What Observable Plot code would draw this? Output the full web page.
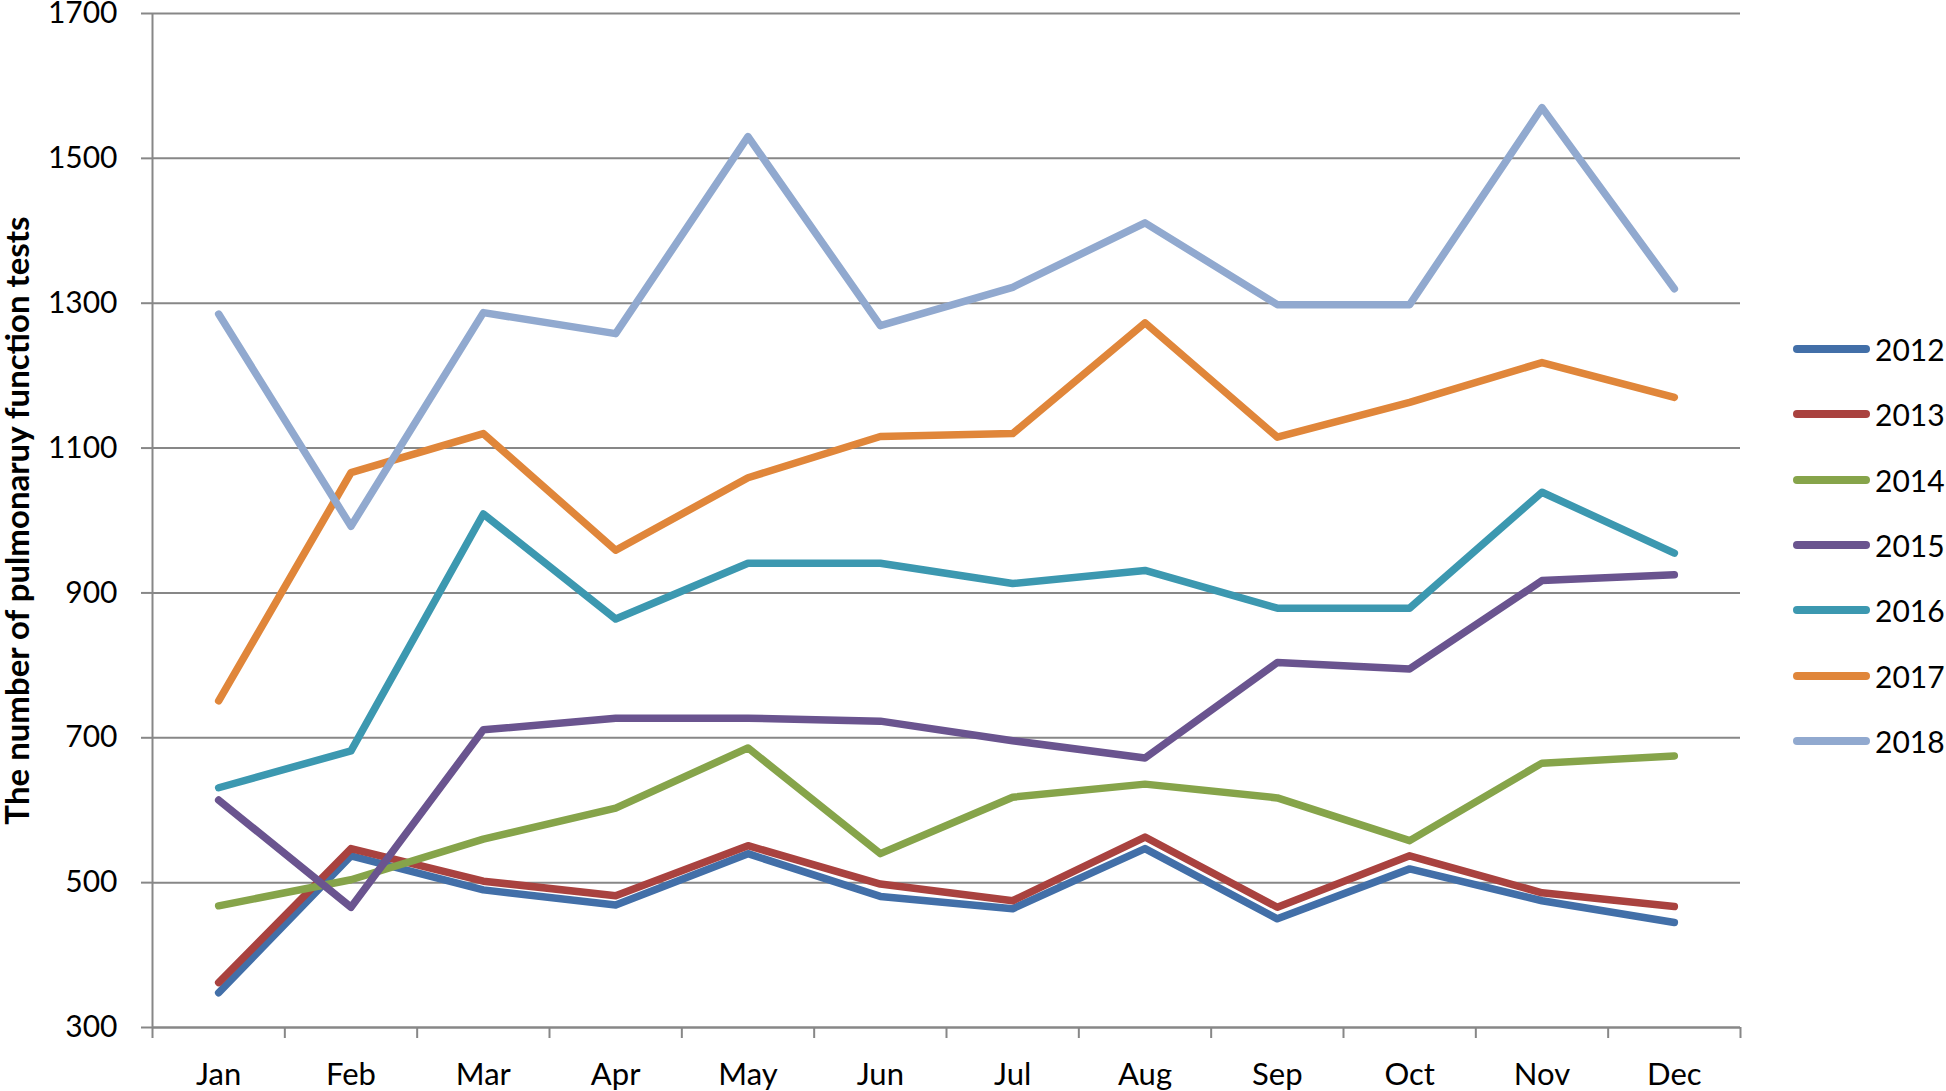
<!DOCTYPE html>
<html>
<head>
<meta charset="utf-8">
<script src="https://cdn.jsdelivr.net/npm/d3@7"></script>
<script src="https://cdn.jsdelivr.net/npm/@observablehq/plot@0.6"></script>
<style>
  html, body { margin: 0; padding: 0; background: #fff; }
  #wrap { position: relative; width: 1946px; height: 1091px; font-family: Lato, "Open Sans", sans-serif; }
  #legend { position: absolute; left: 1793px; top: 316px; }
  .item { position: absolute; left: 0; height: 0; width: 160px; }
  .sw { position: absolute; left: 0; top: -4px; width: 77px; height: 8px; border-radius: 4px; }
  .lb { position: absolute; left: 82px; top: -19px; font-size: 30px; line-height: 38px; color: #000; }
</style>
</head>
<body>
<div id="wrap"><div id="legend"></div></div>
<script>
const months = ["Jan","Feb","Mar","Apr","May","Jun","Jul","Aug","Sep","Oct","Nov","Dec"];
const years = ["2012","2013","2014","2015","2016","2017","2018"];
const colors = ["#426fa8","#a9423f","#86a44a","#6a548f","#3c98b0","#e0863a","#91a9cf"];
const yTicks = [300, 500, 700, 900, 1100, 1300, 1500, 1700];
const yTitle = "The number of pulmonaruy function tests";

const v2012 = [348, 537, 490, 469, 540, 481, 464, 547, 450, 519, 475, 445];
const v2013 = [362, 547, 502, 482, 551, 498, 475, 563, 466, 537, 486, 467];
const v2014 = [468, 504, 560, 603, 686, 540, 618, 636, 617, 558, 665, 675];
const v2015 = [614, 466, 711, 727, 727, 723, 696, 672, 804, 795, 917, 925];
const v2016 = [631, 682, 1009, 864, 941, 941, 913, 931, 879, 879, 1039, 955];
const v2017 = [751, 1066, 1120, 959, 1059, 1116, 1120, 1273, 1115, 1163, 1218, 1170];
const v2018 = [1285, 992, 1287, 1258, 1530, 1269, 1322, 1411, 1298, 1298, 1570, 1320];
const series = [v2012, v2013, v2014, v2015, v2016, v2017, v2018];

const rows = [];
series.forEach((vals, si) => {
  vals.forEach((v, mi) => rows.push({year: years[si], month: months[mi], xi: mi + 0.5, value: v}));
});
const centers = months.map((m, i) => i + 0.5);
const bounds = d3.range(months.length + 1);
const gray = "#878787";

const chart = Plot.plot({
  width: 1946,
  height: 1091,
  marginLeft: 152,
  marginRight: 206,
  marginTop: 13,
  marginBottom: 64,
  style: {fontFamily: "Lato, 'Open Sans', sans-serif", fontSize: "30px", color: "#000", background: "#fff", overflow: "visible"},
  x: {type: "linear", domain: [0, months.length]},
  y: {domain: [300, 1700]},
  color: {domain: years, range: colors},
  marks: [
    Plot.gridY(yTicks, {stroke: gray, strokeOpacity: 1, strokeWidth: 2}),
    Plot.axisY(yTicks, {tickSize: 11, tickPadding: 24, stroke: gray, strokeWidth: 2, fontSize: 30, label: null, tickFormat: d => String(d)}),
    Plot.ruleX([0], {stroke: gray, strokeWidth: 2}),
    Plot.ruleY([300], {stroke: gray, strokeWidth: 2}),
    Plot.axisX(bounds, {tickSize: 11, stroke: gray, strokeWidth: 2, tickFormat: () => "", label: null}),
    Plot.axisX(centers, {tickSize: 0, tickPadding: 35, fontSize: 31, label: null, tickFormat: d => months[Math.round(d - 0.5)]}),
    Plot.line(rows, {x: "xi", y: "value", z: "year", stroke: "year", strokeWidth: 7.5, strokeLinecap: "round", strokeLinejoin: "round"}),
    Plot.text([yTitle], {frameAnchor: "left", dx: -134, rotate: -90, fontWeight: "bold", fontSize: 33, textAnchor: "middle", lineAnchor: "middle", fill: "#000"})
  ]
});
const wrap = document.getElementById("wrap");
wrap.insertBefore(chart, wrap.firstChild);

const legend = document.getElementById("legend");
years.forEach((y, i) => {
  const it = document.createElement("div");
  it.className = "item";
  it.style.top = (33 + i * 65.3) + "px";
  it.innerHTML = `<div class="sw" style="background:${colors[i]}"></div><div class="lb">${y}</div>`;
  legend.appendChild(it);
});
</script>
</body>
</html>
